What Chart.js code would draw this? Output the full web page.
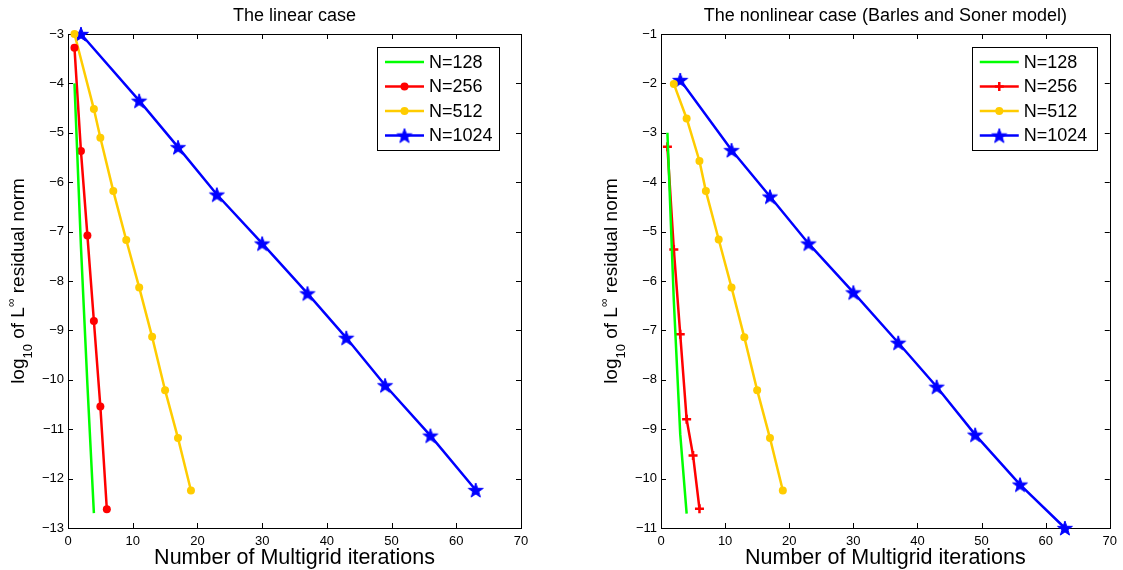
<!DOCTYPE html>
<html><head><meta charset="utf-8">
<script src="https://cdn.jsdelivr.net/npm/chart.js@4.4.0/dist/chart.umd.min.js"></script>
<style>
html,body{margin:0;padding:0;background:#fff;}
#wrap{position:relative;width:1123px;height:570px;overflow:hidden;}
.pane{position:absolute;top:0;height:570px;}
canvas{display:block;}
</style></head><body>
<div id="wrap">
<div class="pane" style="left:0;width:560px"><canvas id="c1" width="560" height="570"></canvas></div>
<div class="pane" style="left:560px;width:563px"><canvas id="c2" width="563" height="570"></canvas></div>
</div>
<script>
// ---------- data: linear case ----------
const linTitle = 'The linear case';
const lin128X = [1, 2, 3, 4];
const lin128Y = [-4.0, -7.3, -10.1, -12.7];
const lin256X = [1, 2, 3, 4, 5, 6];
const lin256Y = [-3.28, -5.37, -7.08, -8.81, -10.54, -12.62];
const lin512X = [1, 4, 5, 7, 9, 11, 13, 15, 17, 19];
const lin512Y = [-3.0, -4.52, -5.10, -6.18, -7.17, -8.13, -9.13, -10.21, -11.18, -12.24];
const lin1024X = [2, 11, 17, 23, 30, 37, 43, 49, 56, 63];
const lin1024Y = [-3.0, -4.35, -5.29, -6.25, -7.24, -8.25, -9.15, -10.11, -11.13, -12.23];

// ---------- data: nonlinear case ----------
const nlTitle = 'The nonlinear case (Barles and Soner model)';
const nl128X = [1, 2, 3, 4];
const nl128Y = [-3.0, -6.4, -9.1, -10.71];
const nl256X = [1, 2, 3, 4, 5, 6];
const nl256Y = [-3.28, -5.36, -7.08, -8.80, -9.53, -10.61];
const nl512X = [2, 4, 6, 7, 9, 11, 13, 15, 17, 19];
const nl512Y = [-2.01, -2.71, -3.57, -4.18, -5.16, -6.13, -7.14, -8.21, -9.18, -10.24];
const nl1024X = [3, 11, 17, 23, 30, 37, 43, 49, 56, 63];
const nl1024Y = [-1.93, -3.35, -4.29, -5.24, -6.23, -7.25, -8.14, -9.11, -10.12, -11.0];

// ---------- labels / axes ----------
const seriesLabels = ['N=128', 'N=256', 'N=512', 'N=1024'];
const xAxisTitle = 'Number of Multigrid iterations';
const xTickMin = 0, xTickMax = 70, xTickStep = 10;
const linYMin = -13, linYMax = -3;
const nlYMin = -11, nlYMax = -1;

const FONT = '"Liberation Sans", Arial, Helvetica, sans-serif';
const GREEN = '#00ff00', RED = '#ff0000', YELLOW = '#ffcc00', BLUE = '#0000ff';

function pts(xs, ys) { return xs.map((x, i) => ({x: x, y: ys[i]})); }

function makeStar(color, R) {
  const s = Math.ceil(R * 2 + 4);
  const c = document.createElement('canvas');
  c.width = s; c.height = s;
  const g = c.getContext('2d');
  const cx = s / 2, cy = s / 2 + R * 0.1;
  const r = R * 0.40;
  g.beginPath();
  for (let i = 0; i < 10; i++) {
    const a = -Math.PI / 2 + i * Math.PI / 5;
    const rr = i % 2 === 0 ? R : r;
    const px = cx + rr * Math.cos(a), py = cy + rr * Math.sin(a);
    if (i === 0) g.moveTo(px, py); else g.lineTo(px, py);
  }
  g.closePath();
  g.fillStyle = color; g.fill();
  g.lineWidth = 1; g.strokeStyle = color; g.stroke();
  return c;
}
const starImg = makeStar(BLUE, 7.8);

function minus(v) { return v < 0 ? '\u2212' + Math.abs(v) : String(v); }

// inward tick marks + full box
const boxTicks = {
  id: 'boxTicks',
  beforeDatasetsDraw(chart) {
    const ctx = chart.ctx, ca = chart.chartArea;
    const xs = chart.scales.x, ys = chart.scales.y;
    const L = 5;
    ctx.save();
    ctx.strokeStyle = '#000'; ctx.lineWidth = 1;
    ctx.beginPath();
    xs.ticks.forEach(t => {
      const p = Math.round(xs.getPixelForValue(t.value)) + 0.5;
      ctx.moveTo(p, ca.bottom); ctx.lineTo(p, ca.bottom - L);
      ctx.moveTo(p, ca.top); ctx.lineTo(p, ca.top + L);
    });
    ys.ticks.forEach(t => {
      const p = Math.round(ys.getPixelForValue(t.value)) + 0.5;
      ctx.moveTo(ca.left, p); ctx.lineTo(ca.left + L, p);
      ctx.moveTo(ca.right, p); ctx.lineTo(ca.right - L, p);
    });
    ctx.stroke();
    ctx.strokeRect(Math.round(ca.left) + 0.5, Math.round(ca.top) + 0.5,
                   Math.round(ca.right) - Math.round(ca.left), Math.round(ca.bottom) - Math.round(ca.top));
    ctx.restore();
  }
};

function drawMarker(ctx, ds, x, y) {
  const st = ds.pointStyle;
  if (!ds.pointRadius) return;
  if (st === 'circle') {
    ctx.beginPath(); ctx.arc(x, y, ds.pointRadius, 0, Math.PI * 2);
    ctx.fillStyle = ds.pointBackgroundColor; ctx.fill();
  } else if (st === 'cross') {
    const r = ds.pointRadius;
    ctx.beginPath();
    ctx.moveTo(x - r, y); ctx.lineTo(x + r, y);
    ctx.moveTo(x, y - r); ctx.lineTo(x, y + r);
    ctx.strokeStyle = ds.pointBorderColor; ctx.lineWidth = ds.pointBorderWidth; ctx.stroke();
  } else if (st && st.width) {
    ctx.drawImage(st, x - st.width / 2, y - st.height / 2);
  }
}

const boxLegend = {
  id: 'boxLegend',
  afterDatasetsDraw(chart, args, o) {
    const ctx = chart.ctx, ca = chart.chartArea;
    const x0 = ca.right - o.right - o.width, y0 = ca.top + o.top;
    ctx.save();
    ctx.fillStyle = '#fff';
    ctx.fillRect(x0, y0, o.width, o.height);
    ctx.strokeStyle = '#000'; ctx.lineWidth = 1;
    ctx.strokeRect(Math.round(x0) + 0.5, Math.round(y0) + 0.5, Math.round(o.width), Math.round(o.height));
    chart.data.datasets.forEach((ds, i) => {
      const y = y0 + o.firstRow + i * o.rowGap;
      ctx.beginPath();
      ctx.moveTo(x0 + o.lineStart, y); ctx.lineTo(x0 + o.lineEnd, y);
      ctx.strokeStyle = ds.borderColor; ctx.lineWidth = ds.borderWidth; ctx.stroke();
      drawMarker(ctx, ds, x0 + (o.lineStart + o.lineEnd) / 2, y);
      ctx.fillStyle = '#000';
      ctx.font = o.fontSize + 'px ' + FONT;
      ctx.textBaseline = 'middle'; ctx.textAlign = 'left';
      ctx.fillText(ds.label, x0 + o.textStart, y + 1);
    });
    ctx.restore();
  }
};

// rotated y-axis title with subscript / superscript
const yTitle = {
  id: 'yTitle',
  afterDraw(chart, args, o) {
    const ctx = chart.ctx, ca = chart.chartArea;
    const parts = o.parts;
    ctx.save();
    let total = 0;
    parts.forEach(p => { ctx.font = p.size + 'px ' + FONT; p.w = ctx.measureText(p.t).width; total += p.w; });
    ctx.translate(ca.left - o.offset, (ca.top + ca.bottom) / 2);
    ctx.rotate(-Math.PI / 2);
    ctx.fillStyle = '#000'; ctx.textBaseline = 'alphabetic'; ctx.textAlign = 'left';
    let x = -total / 2;
    parts.forEach(p => { ctx.font = p.size + 'px ' + FONT; ctx.fillText(p.t, x, p.dy); x += p.w; });
    ctx.restore();
  }
};

const yTitleParts = [
  {t: 'log', size: 19, dy: 0},
  {t: '10', size: 13, dy: 8},
  {t: ' of L', size: 19, dy: 0},
  {t: '\u221E', size: 12, dy: -9},
  {t: ' residual norm', size: 19, dy: 0}
];

function makeChart(id, title, sets, yMin, yMax, geo, legendGeo) {
  const datasets = [
    {label: seriesLabels[0], data: pts(sets[0][0], sets[0][1]), borderColor: GREEN, backgroundColor: GREEN,
     borderWidth: 2.5, pointRadius: 0, pointHoverRadius: 0, pointStyle: 'circle', clip: false},
    {label: seriesLabels[1], data: pts(sets[1][0], sets[1][1]), borderColor: RED, backgroundColor: RED,
     borderWidth: 2.5, pointStyle: sets[1][2], pointRadius: sets[1][2] === 'cross' ? 4.5 : 4,
     pointBackgroundColor: RED, pointBorderColor: RED, pointBorderWidth: sets[1][2] === 'cross' ? 2.5 : 0, clip: false},
    {label: seriesLabels[2], data: pts(sets[2][0], sets[2][1]), borderColor: YELLOW, backgroundColor: YELLOW,
     borderWidth: 2.5, pointStyle: 'circle', pointRadius: 4,
     pointBackgroundColor: YELLOW, pointBorderColor: YELLOW, pointBorderWidth: 0, clip: false},
    {label: seriesLabels[3], data: pts(sets[3][0], sets[3][1]), borderColor: BLUE, backgroundColor: BLUE,
     borderWidth: 2.5, pointStyle: starImg, pointRadius: 7,
     pointBackgroundColor: BLUE, pointBorderColor: BLUE, pointBorderWidth: 0, clip: false}
  ];
  return new Chart(document.getElementById(id), {
    type: 'line',
    data: {datasets: datasets},
    options: {
      responsive: false, animation: false, devicePixelRatio: 1,
      events: [],
      layout: {padding: {left: 0, right: geo.right, top: 0, bottom: 0}},
      plugins: {
        legend: {display: false},
        tooltip: {enabled: false},
        title: {display: true, text: title, fullSize: false, color: '#000',
                font: {family: FONT, size: 18, weight: 'normal', lineHeight: 1.2},
                padding: {top: 5, bottom: geo.top - 5 - 21.6}},
        boxLegend: legendGeo,
        yTitle: {parts: yTitleParts, offset: 44}
      },
      scales: {
        x: {type: 'linear', min: xTickMin, max: xTickMax,
            ticks: {stepSize: xTickStep, color: '#000', font: {family: FONT, size: 13}, padding: 6, maxRotation: 0,
                    callback: v => minus(v)},
            grid: {display: false, drawTicks: false}, border: {display: false},
            title: {display: true, text: xAxisTitle, color: '#000', font: {family: FONT, size: 21.5, lineHeight: 1},
                    padding: {top: 0, bottom: 1}},
            afterFit: s => { s.height = geo.bottom; }},
        y: {type: 'linear', min: yMin, max: yMax,
            ticks: {stepSize: 1, color: '#000', font: {family: FONT, size: 13}, padding: 4,
                    callback: v => minus(v)},
            grid: {display: false, drawTicks: false}, border: {display: false},
            afterFit: s => { s.width = geo.left; }}
      }
    },
    plugins: [boxTicks, boxLegend, yTitle]
  });
}

const legendLeft = {width: 122, height: 103, right: 22, top: 12.5, firstRow: 15.5, rowGap: 24.5,
                    lineStart: 8, lineEnd: 47, textStart: 52, fontSize: 18};
const legendRight = {width: 125, height: 103, right: 13, top: 12.5, firstRow: 15.5, rowGap: 24.5,
                     lineStart: 8, lineEnd: 47, textStart: 52, fontSize: 18};

makeChart('c1', linTitle,
  [[lin128X, lin128Y], [lin256X, lin256Y, 'circle'], [lin512X, lin512Y], [lin1024X, lin1024Y]],
  linYMin, linYMax, {left: 68, right: 39, top: 34, bottom: 42}, legendLeft);
makeChart('c2', nlTitle,
  [[nl128X, nl128Y], [nl256X, nl256Y, 'cross'], [nl512X, nl512Y], [nl1024X, nl1024Y]],
  nlYMin, nlYMax, {left: 101, right: 8, top: 34, bottom: 42}, legendRight);
</script>
</body></html>
